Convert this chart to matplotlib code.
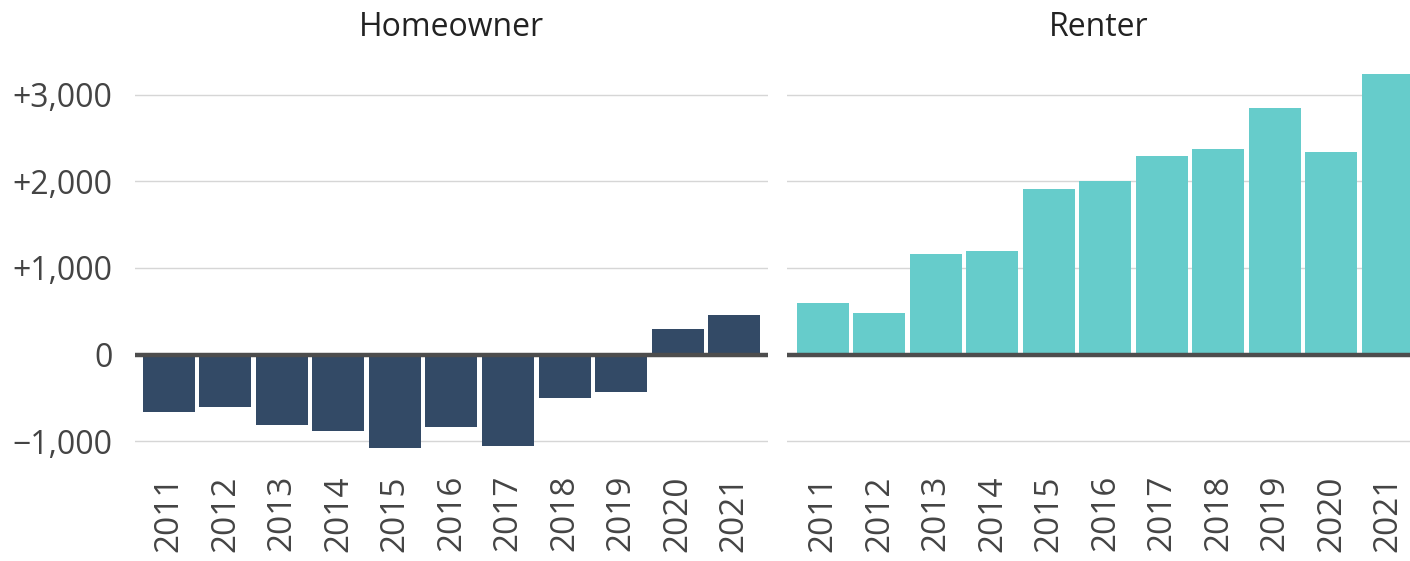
import matplotlib
matplotlib.use("Agg")
import matplotlib.pyplot as plt

years = ["2011", "2012", "2013", "2014", "2015", "2016", "2017", "2018", "2019", "2020", "2021"]
homeowner = [-660, -605, -810, -885, -1075, -835, -1055, -500, -430, 300, 460]
renter = [595, 475, 1165, 1195, 1910, 2010, 2300, 2375, 2845, 2335, 3240]
ytick_vals = [-1000, 0, 1000, 2000, 3000]
ytick_labels = ["\u22121,000", "0", "+1,000", "+2,000", "+3,000"]

NAVY, TEAL = "#334a66", "#66cccb"
TEXT, GRID, ZERO = "#444444", "#d6d6d6", "#4d4d4d"

plt.rcParams.update({"font.family": ["Open Sans", "DejaVu Sans"]})

fig = plt.figure(figsize=(14.1, 5.61), dpi=100)
ax1 = fig.add_axes([0.0957, 0.183, 0.449, 0.694])
ax2 = fig.add_axes([0.558, 0.183, 0.442, 0.694])

x = list(range(len(years)))
for ax, vals, color, title, xlim in [
    (ax1, homeowner, NAVY, "Homeowner", (-0.6, 10.6)),
    (ax2, renter, TEAL, "Renter", (-0.64, 10.39)),
]:
    ax.bar(x, vals, width=0.92, color=color, zorder=2)
    ax.axhline(0, color=ZERO, lw=3.2, zorder=3)
    ax.set_xlim(*xlim)
    ax.set_ylim(-1200, 3300)
    ax.set_yticks(ytick_vals)
    ax.grid(axis="y", color=GRID, lw=1, zorder=0)
    ax.set_xticks(x)
    ax.set_xticklabels(years, rotation=90, fontsize=24, color=TEXT)
    ax.tick_params(length=0, pad=12)
    for s in ax.spines.values():
        s.set_visible(False)
    ax.set_title(title, fontsize=23, color="#222222", pad=24)

ax1.set_yticklabels(ytick_labels, fontsize=23, color=TEXT)
ax1.tick_params(axis="y", pad=16)
ax2.set_yticklabels([])

fig.savefig("out.png", dpi=100)
